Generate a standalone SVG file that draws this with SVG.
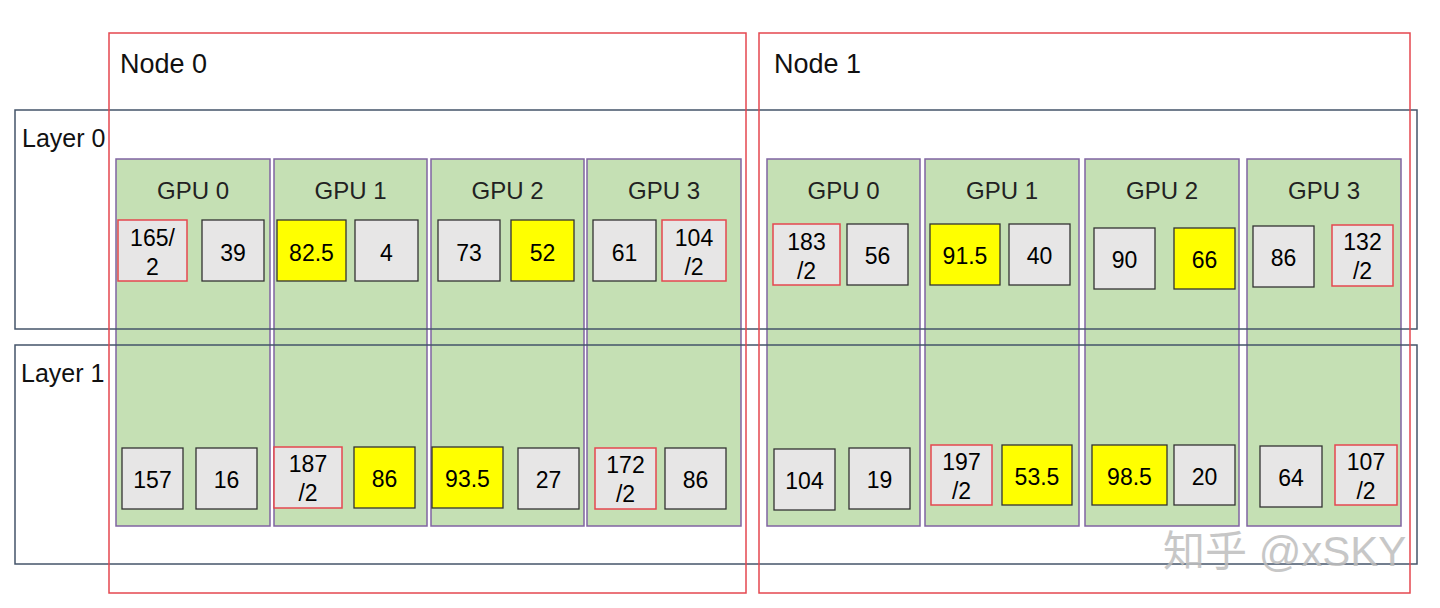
<svg xmlns="http://www.w3.org/2000/svg" width="1440" height="608" viewBox="0 0 1440 608">
<style>
.gpu{fill:#C5E0B4;stroke:#8064A2;stroke-width:1.5}
.layer{fill:none;stroke:#44546A;stroke-width:1.5}
.node{fill:none;stroke:#E5474F;stroke-width:1.5}
.c{fill:#E7E6E6;stroke:#333;stroke-width:1.3}
.r{fill:#E7E6E6;stroke:#E5474F;stroke-width:1.5}
.y{fill:#FFFF00;stroke:#333;stroke-width:1.3}
.big{font-family:"Liberation Sans",Arial,sans-serif;font-size:27px;fill:#111}
.gl{font-family:"Liberation Sans",Arial,sans-serif;font-size:24px;fill:#222;text-anchor:middle}
.v{font-family:"Liberation Sans",Arial,sans-serif;font-size:23px;fill:#000;text-anchor:middle}
.wm{font-family:"Liberation Sans","Noto Sans CJK SC",sans-serif;font-size:42px;fill:#BEBEBE;opacity:0.85}
</style>
<rect width="1440" height="608" fill="#fff"/>

<g id="n0-gpu0">
<rect class="gpu" x="116" y="159" width="154" height="367"/>
<text class="gl" x="193" y="199">GPU 0</text>
<rect class="r" x="118" y="220" width="69" height="61"/><text class="v" x="152.5" y="246">165/</text><text class="v" x="152.5" y="275">2</text>
<rect class="c" x="202" y="220" width="62" height="61"/><text class="v" x="233" y="261">39</text>
<rect class="c" x="122" y="448" width="61" height="61"/><text class="v" x="152.5" y="488">157</text>
<rect class="c" x="196" y="448" width="61" height="61"/><text class="v" x="226.5" y="488">16</text>
</g>
<g id="n0-gpu1">
<rect class="gpu" x="274" y="159" width="153" height="367"/>
<text class="gl" x="350.5" y="199">GPU 1</text>
<rect class="y" x="277" y="220" width="69" height="61"/><text class="v" x="311.5" y="261">82.5</text>
<rect class="c" x="355" y="220" width="63" height="61"/><text class="v" x="386.5" y="261">4</text>
<rect class="r" x="274" y="447" width="68" height="61"/><text class="v" x="308" y="472">187</text><text class="v" x="308" y="501">/2</text>
<rect class="y" x="354" y="447" width="61" height="61"/><text class="v" x="384.5" y="487">86</text>
</g>
<g id="n0-gpu2">
<rect class="gpu" x="431" y="159" width="153" height="367"/>
<text class="gl" x="507.5" y="199">GPU 2</text>
<rect class="c" x="438" y="220" width="62" height="61"/><text class="v" x="469" y="261">73</text>
<rect class="y" x="511" y="220" width="63" height="61"/><text class="v" x="542.5" y="261">52</text>
<rect class="y" x="432" y="447" width="71" height="61"/><text class="v" x="467.5" y="487">93.5</text>
<rect class="c" x="518" y="448" width="61" height="61"/><text class="v" x="548.5" y="488">27</text>
</g>
<g id="n0-gpu3">
<rect class="gpu" x="587" y="159" width="154" height="367"/>
<text class="gl" x="664" y="199">GPU 3</text>
<rect class="c" x="593" y="220" width="63" height="61"/><text class="v" x="624.5" y="261">61</text>
<rect class="r" x="662" y="220" width="64" height="61"/><text class="v" x="694" y="246">104</text><text class="v" x="694" y="275">/2</text>
<rect class="r" x="595" y="448" width="61" height="61"/><text class="v" x="625.5" y="473">172</text><text class="v" x="625.5" y="502">/2</text>
<rect class="c" x="665" y="448" width="61" height="61"/><text class="v" x="695.5" y="488">86</text>
</g>

<g id="n1-gpu0">
<rect class="gpu" x="767" y="159" width="153" height="367"/>
<text class="gl" x="843.5" y="199">GPU 0</text>
<rect class="r" x="773" y="224" width="67" height="61"/><text class="v" x="806.5" y="250">183</text><text class="v" x="806.5" y="279">/2</text>
<rect class="c" x="847" y="224" width="61" height="61"/><text class="v" x="877.5" y="264">56</text>
<rect class="c" x="774" y="449" width="61" height="61"/><text class="v" x="804.5" y="489">104</text>
<rect class="c" x="849" y="448" width="61" height="61"/><text class="v" x="879.5" y="488">19</text>
</g>
<g id="n1-gpu1">
<rect class="gpu" x="925" y="159" width="154" height="367"/>
<text class="gl" x="1002" y="199">GPU 1</text>
<rect class="y" x="930" y="224" width="70" height="61"/><text class="v" x="965" y="264">91.5</text>
<rect class="c" x="1009" y="224" width="61" height="61"/><text class="v" x="1039.5" y="264">40</text>
<rect class="r" x="931" y="445" width="61" height="60"/><text class="v" x="961.5" y="470">197</text><text class="v" x="961.5" y="499">/2</text>
<rect class="y" x="1002" y="445" width="70" height="60"/><text class="v" x="1037" y="485">53.5</text>
</g>
<g id="n1-gpu2">
<rect class="gpu" x="1085" y="159" width="154" height="367"/>
<text class="gl" x="1162" y="199">GPU 2</text>
<rect class="c" x="1094" y="228" width="61" height="61"/><text class="v" x="1124.5" y="268">90</text>
<rect class="y" x="1174" y="228" width="61" height="61"/><text class="v" x="1204.5" y="268">66</text>
<rect class="y" x="1092" y="445" width="75" height="60"/><text class="v" x="1129.5" y="485">98.5</text>
<rect class="c" x="1174" y="445" width="61" height="60"/><text class="v" x="1204.5" y="485">20</text>
</g>
<g id="n1-gpu3">
<rect class="gpu" x="1247" y="159" width="154" height="367"/>
<text class="gl" x="1324" y="199">GPU 3</text>
<rect class="c" x="1253" y="226" width="61" height="61"/><text class="v" x="1283.5" y="266">86</text>
<rect class="r" x="1332" y="225" width="61" height="61"/><text class="v" x="1362.5" y="250">132</text><text class="v" x="1362.5" y="279">/2</text>
<rect class="c" x="1260" y="446" width="62" height="61"/><text class="v" x="1291" y="486">64</text>
<rect class="r" x="1335" y="445" width="62" height="60"/><text class="v" x="1366" y="470">107</text><text class="v" x="1366" y="499">/2</text>
</g>

<g id="layer0">
<rect class="layer" x="15" y="110" width="1402" height="219"/>
<text class="big" x="22" y="147" style="font-size:25px">Layer 0</text>
</g>
<g id="layer1">
<rect class="layer" x="15" y="345" width="1402" height="219"/>
<text class="big" x="21" y="382" style="font-size:25px">Layer 1</text>
</g>
<g id="node0">
<rect class="node" x="109" y="33" width="637" height="560"/>
<text class="big" x="120" y="73">Node 0</text>
</g>
<g id="node1">
<rect class="node" x="759" y="33" width="651" height="560"/>
<text class="big" x="774" y="73">Node 1</text>
</g>
<g id="connectors"/>
<text class="wm" x="1163" y="566">知乎 @xSKY</text>
</svg>
